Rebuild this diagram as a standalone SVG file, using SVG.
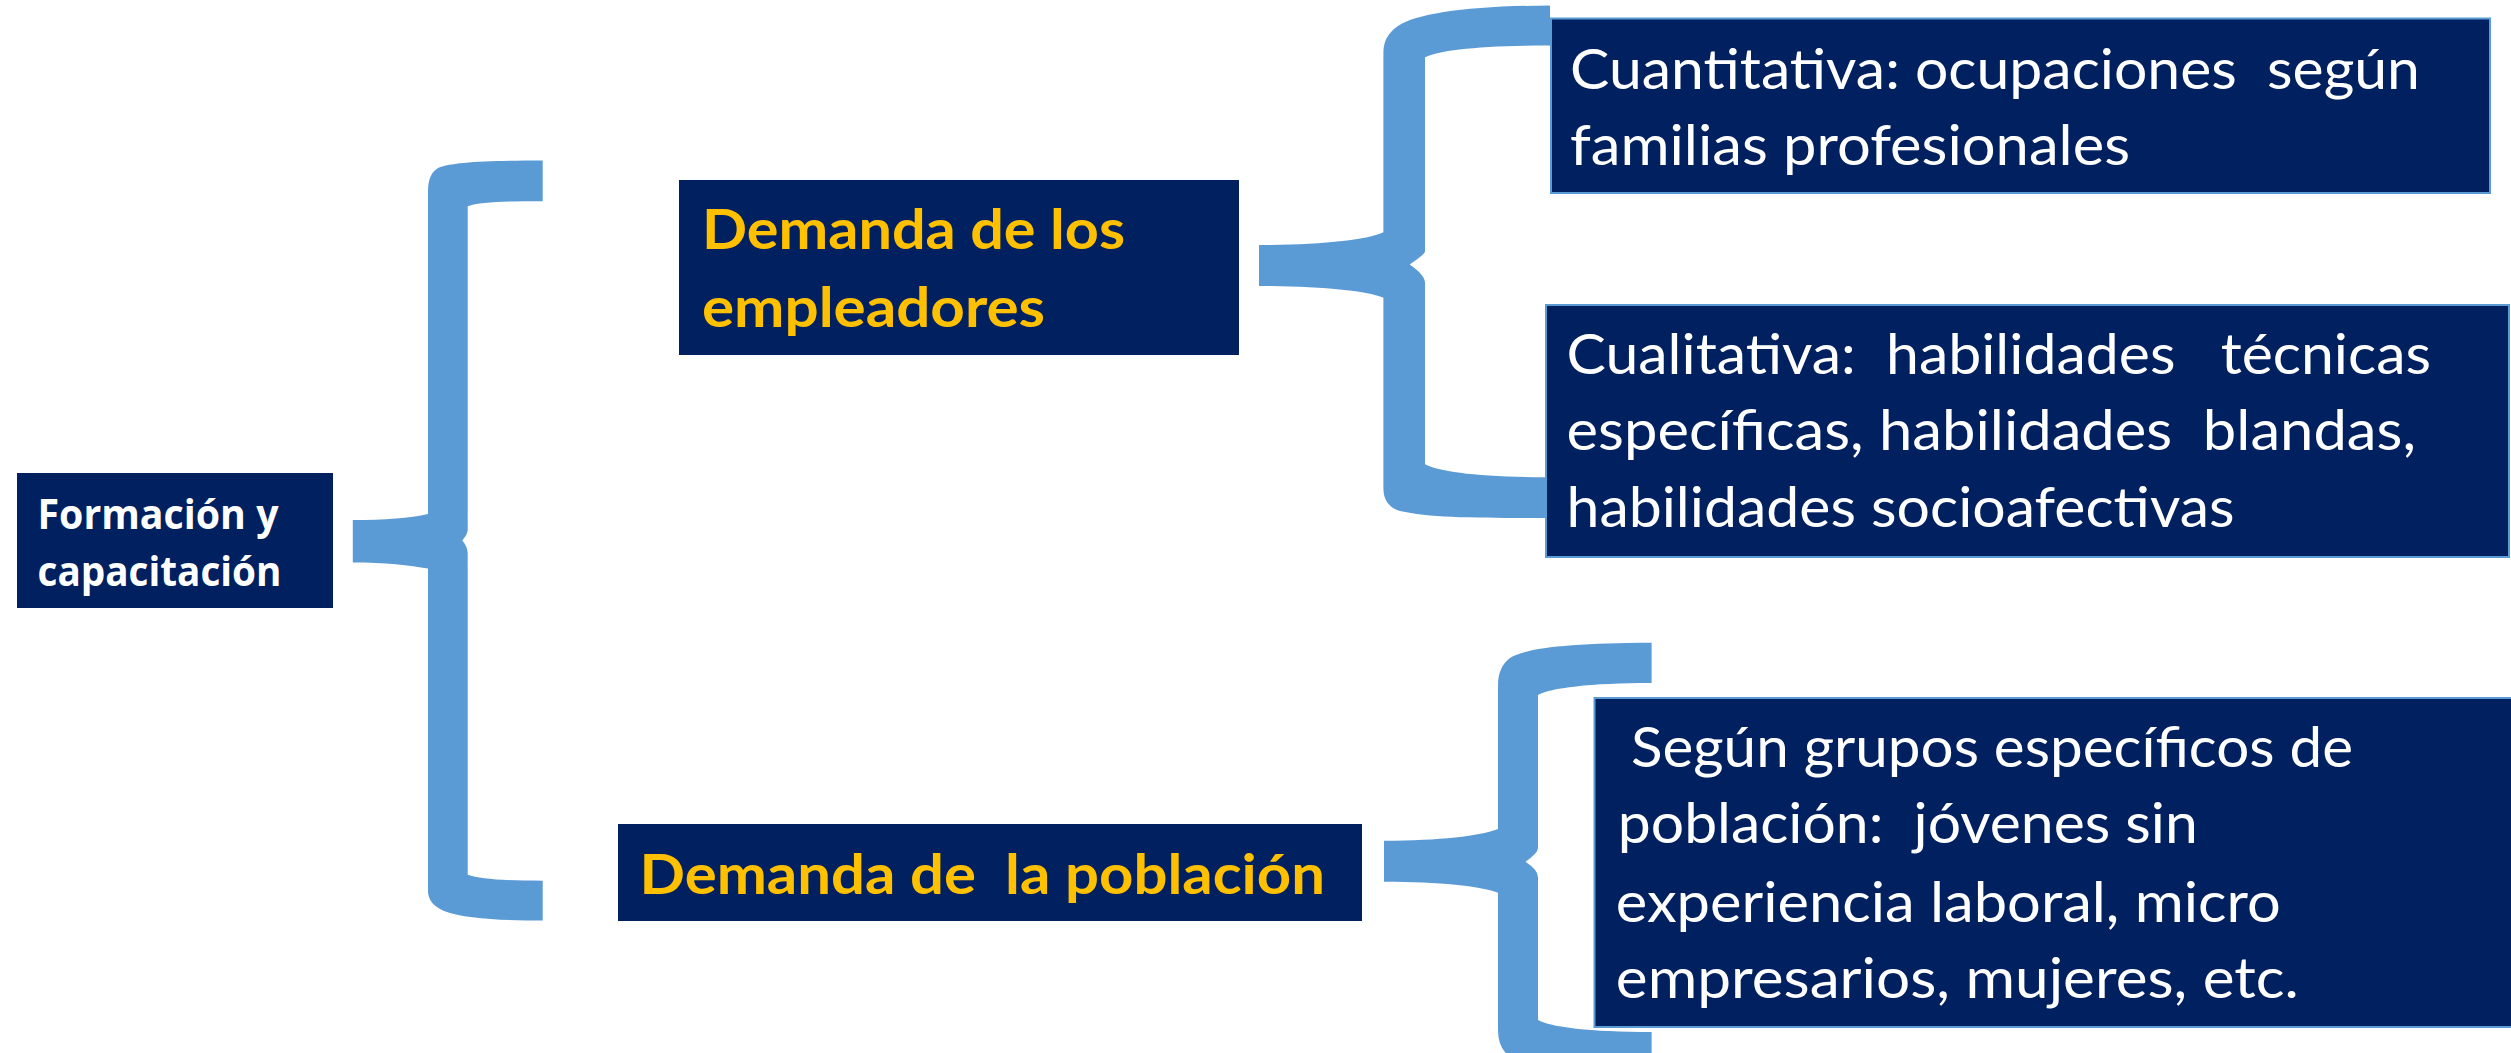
<svg xmlns="http://www.w3.org/2000/svg" width="2511" height="1053" viewBox="0 0 2511 1053">
<style>
.box{fill:#002060}
.bbox{fill:#002060;stroke:#5B9BD5;stroke-width:2}
.brace{fill:#5B9BD5}
.t{font-family:Lato,"Liberation Sans",sans-serif;font-size:56px;fill:#FFFFFF;white-space:pre}
.y{font-family:Lato,"Liberation Sans",sans-serif;font-size:56px;font-weight:bold;fill:#FFC000;white-space:pre}
.f{font-family:"Open Sans","Liberation Sans",sans-serif;font-size:42px;font-weight:bold;fill:#FFFFFF;white-space:pre}
</style>
<rect width="2511" height="1053" fill="#FFFFFF"/>
<g id="connectors">
<path class="brace" d="M542.7 160.4 C490 160.4 450 162 438 168 Q428 174 428 191 L428 514 C410 518 385 520 352.8 520 L352.8 562.4 C385 562.4 410 565 428 568.6 L428 891 Q428 904 444 911 C465 919 505 920.6 542.7 920.6 L542.7 880.7 C505 880.7 480 879 467.7 874.7 L467.7 553.3 Q467.7 547 462.3 540.5 Q467.7 534 467.7 530.3 L467.7 206.3 C480 202 505 201.2 542.7 201.2 Z"/>
<path class="brace" d="M1550 5.5 C1470 6 1418 13 1398 26 Q1383.4 36 1383.4 52 L1383.4 232.3 C1368 240 1320 245 1259 245 L1259 286 C1320 286 1368 291 1383.4 297.8 L1383.4 488 Q1383.4 506 1400 511 C1430 518 1480 518 1546 518 L1546 477.2 C1480 477.2 1440 472 1425 464.3 L1425 283 Q1425 275 1409.7 264.5 Q1425 254 1425 251.6 L1425 57.3 C1440 50 1480 45.5 1550 45.5 Z"/>
<path class="brace" d="M1651.6 642.7 C1570 643 1525 648 1510 658 Q1498 667 1498 685 L1498 829 C1480 836 1440 840.7 1384 840.7 L1384 881.7 C1440 881.7 1480 886 1498 892.7 L1498 1030 Q1498 1050 1512 1058 C1530 1068 1570 1072 1651.6 1072 L1651.6 1032 C1590 1032 1550 1027 1538 1020 L1538 877 Q1538 870 1525.5 861.7 Q1538 853 1538 848 L1538 695 C1550 688 1590 683 1651.6 683 Z"/>
</g>
<g id="formacion">
<rect class="box" x="17" y="473" width="316" height="135"/>
<text class="f" x="37.5" y="529" textLength="241" lengthAdjust="spacingAndGlyphs">Formación y</text>
<text class="f" x="37.5" y="586" textLength="244" lengthAdjust="spacingAndGlyphs">capacitación</text>
</g>
<g id="demanda-empleadores">
<rect class="box" x="679" y="180" width="560" height="175"/>
<text class="y" x="702" y="249" textLength="423" lengthAdjust="spacingAndGlyphs">Demanda de los</text>
<text class="y" x="702" y="326.7" textLength="343" lengthAdjust="spacingAndGlyphs">empleadores</text>
</g>
<g id="demanda-poblacion">
<rect class="box" x="618" y="824" width="744" height="97"/>
<text class="y" x="639.5" y="894" textLength="685.5" lengthAdjust="spacingAndGlyphs">Demanda de  la población</text>
</g>
<g id="cuantitativa">
<rect class="bbox" x="1551" y="18.5" width="939" height="174.5"/>
<text class="t" x="1570" y="88.8" textLength="850" lengthAdjust="spacingAndGlyphs">Cuantitativa: ocupaciones  según</text>
<text class="t" x="1570" y="164.6" textLength="560" lengthAdjust="spacingAndGlyphs">familias profesionales</text>
</g>
<g id="cualitativa">
<rect class="bbox" x="1546" y="305" width="963" height="252"/>
<text class="t" x="1566.5" y="373.7" textLength="864.5" lengthAdjust="spacingAndGlyphs">Cualitativa:  habilidades   técnicas</text>
<text class="t" x="1566.5" y="449.5" textLength="849.5" lengthAdjust="spacingAndGlyphs">específicas, habilidades  blandas,</text>
<text class="t" x="1566.5" y="527" textLength="668" lengthAdjust="spacingAndGlyphs">habilidades socioafectivas</text>
</g>
<g id="segun">
<rect class="bbox" x="1594.5" y="698" width="1414.5" height="329"/>
<text class="t" x="1616" y="766.7" textLength="737" lengthAdjust="spacingAndGlyphs"> Según grupos específicos de</text>
<text class="t" x="1617.8" y="843" textLength="580" lengthAdjust="spacingAndGlyphs">población:  jóvenes sin</text>
<text class="t" x="1615.8" y="921.7" textLength="665" lengthAdjust="spacingAndGlyphs">experiencia laboral, micro</text>
<text class="t" x="1615.8" y="998" textLength="683" lengthAdjust="spacingAndGlyphs">empresarios, mujeres, etc.</text>
</g>
</svg>
